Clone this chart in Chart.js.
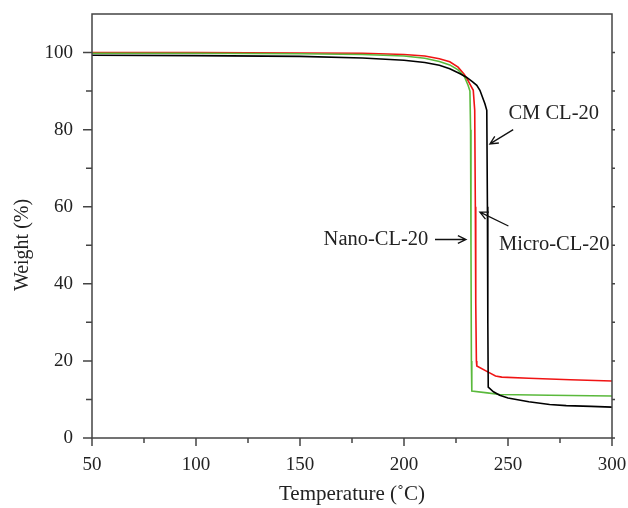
<!DOCTYPE html>
<html>
<head>
<meta charset="utf-8">
<script src="https://cdn.jsdelivr.net/npm/chart.js@4.4.1/dist/chart.umd.min.js"></script>
<style>
  html, body { margin: 0; padding: 0; background: #fff; }
  #wrap { width: 628px; height: 508px; }
</style>
</head>
<body>
<div id="wrap"><canvas id="chart" width="628" height="508"></canvas></div>
<script>
// TGA curves
var microT = [50, 100, 150, 180, 200, 210, 217, 222, 226, 229, 231, 233.3, 234, 234.3, 234.5, 234.8, 235, 240.5, 244, 247, 260, 280, 300];
var microW = [100, 100, 99.9, 99.8, 99.5, 99.1, 98.4, 97.6, 96.2, 94.3, 92.5, 90.2, 85, 60, 35, 20, 18.7, 17.1, 16.1, 15.8, 15.5, 15.1, 14.8];

var nanoT = [50, 100, 150, 180, 200, 210, 217, 222, 226, 229, 230.8, 231.7, 232, 232.2, 232.4, 232.6, 240, 246, 270, 300];
var nanoW = [99.8, 99.8, 99.7, 99.5, 99.1, 98.5, 97.7, 96.8, 95.5, 93.8, 91.5, 90, 80, 50, 20, 12.2, 11.7, 11.3, 11.1, 10.9];

var cmT = [50, 100, 150, 180, 200, 210, 217, 222, 227, 230, 233, 235, 236.5, 238.9, 239.8, 240.1, 240.3, 240.5, 243, 246, 250, 260, 270, 278, 290, 300];
var cmW = [99.3, 99.2, 99, 98.6, 98, 97.4, 96.7, 95.8, 94.5, 93.6, 92.4, 91.5, 90.2, 86.7, 85, 60, 30, 13.2, 12, 11.1, 10.4, 9.4, 8.7, 8.4, 8.2, 8.0];

var xTicks = [50, 100, 150, 200, 250, 300];
var xMinor = [75, 125, 175, 225, 275];
var yTicks = [0, 20, 40, 60, 80, 100];
var yMinor = [10, 30, 50, 70, 90];

function pts(t, w) {
  return t.map(function (v, i) { return {x: v, y: w[i]}; });
}

var serif = '"Liberation Serif", "DejaVu Serif", serif';

// frame, tick marks, axis titles and the arrow labels
var extras = {
  id: 'extras',
  afterDraw: function (chart) {
    var c = chart.ctx, a = chart.chartArea;
    var xs = chart.scales.x, ys = chart.scales.y;
    c.save();
    c.strokeStyle = '#444';
    c.lineWidth = 1.5;
    c.strokeRect(a.left, a.top, a.right - a.left, a.bottom - a.top);

    c.beginPath();
    xTicks.forEach(function (v) {
      var p = xs.getPixelForValue(v);
      c.moveTo(p, a.bottom); c.lineTo(p, a.bottom + 8);
    });
    xMinor.forEach(function (v) {
      var p = xs.getPixelForValue(v);
      c.moveTo(p, a.bottom); c.lineTo(p, a.bottom + 5);
    });
    yTicks.forEach(function (v) {
      var p = ys.getPixelForValue(v);
      c.moveTo(a.left, p); c.lineTo(a.left - 9, p);
      c.moveTo(a.right, p); c.lineTo(a.right + 3, p);
    });
    yMinor.forEach(function (v) {
      var p = ys.getPixelForValue(v);
      c.moveTo(a.left, p); c.lineTo(a.left - 6, p);
      c.moveTo(a.right, p); c.lineTo(a.right + 3, p);
    });
    c.stroke();

    c.fillStyle = '#222';
    c.font = '21px ' + serif;
    c.textAlign = 'center';
    c.textBaseline = 'middle';
    c.fillText('Temperature (\u02DAC)', (a.left + a.right) / 2, 494);
    c.font = '20px ' + serif;
    c.save();
    c.translate(23, 245);
    c.rotate(-Math.PI / 2);
    c.fillText('Weight (%)', 0, 0);
    c.restore();

    c.font = '20.5px ' + serif;
    c.textBaseline = 'alphabetic';
    c.textAlign = 'left';
    c.fillText('CM CL-20', xs.getPixelForValue(250.2), ys.getPixelForValue(82.8));
    c.fillText('Micro-CL-20', xs.getPixelForValue(245.7), ys.getPixelForValue(48.7));
    c.textAlign = 'right';
    c.fillText('Nano-CL-20', xs.getPixelForValue(211.7), ys.getPixelForValue(50.2));

    function arrow(x1, y1, x2, y2) {
      var px1 = xs.getPixelForValue(x1), py1 = ys.getPixelForValue(y1);
      var px2 = xs.getPixelForValue(x2), py2 = ys.getPixelForValue(y2);
      var ang = Math.atan2(py2 - py1, px2 - px1);
      c.beginPath();
      c.moveTo(px1, py1); c.lineTo(px2, py2);
      c.moveTo(px2 - 9 * Math.cos(ang - 0.45), py2 - 9 * Math.sin(ang - 0.45));
      c.lineTo(px2, py2);
      c.lineTo(px2 - 9 * Math.cos(ang + 0.45), py2 - 9 * Math.sin(ang + 0.45));
      c.stroke();
    }
    c.strokeStyle = '#111';
    c.lineWidth = 1.3;
    arrow(252.5, 80, 241.3, 76.3);
    arrow(250.2, 55, 236.5, 58.6);
    arrow(214.9, 51.5, 229.8, 51.5);
    c.restore();
  }
};

var chart = new Chart('chart', {
  type: 'line',
  data: {
    datasets: [
      { label: 'CM CL-20', data: pts(cmT, cmW), borderColor: '#000000', borderWidth: 1.6 },
      { label: 'Nano-CL-20', data: pts(nanoT, nanoW), borderColor: 'rgb(90,185,60)', borderWidth: 1.6 },
      { label: 'Micro-CL-20', data: pts(microT, microW), borderColor: 'rgb(240,20,20)', borderWidth: 1.6 }
    ]
  },
  options: {
    responsive: false,
    animation: false,
    events: [],
    layout: { padding: { left: 0, top: 14, right: 16, bottom: 0 } },
    elements: { point: { radius: 0 }, line: { tension: 0 } },
    plugins: { legend: { display: false }, tooltip: { enabled: false } },
    scales: {
      x: {
        type: 'linear', min: 50, max: 300,
        grid: { display: false }, border: { display: false },
        afterBuildTicks: function (s) { s.ticks = xTicks.map(function (v) { return {value: v}; }); },
        afterFit: function (s) { s.height = 70; s.paddingLeft = 0; s.paddingRight = 0; },
        ticks: { color: '#222', font: { family: serif, size: 19 }, padding: 8, maxRotation: 0 }
      },
      y: {
        type: 'linear', min: 0, max: 110,
        grid: { display: false }, border: { display: false },
        afterBuildTicks: function (s) { s.ticks = yTicks.map(function (v) { return {value: v}; }); },
        afterFit: function (s) { s.width = 92; s.paddingTop = 0; s.paddingBottom = 0; },
        ticks: { color: '#222', font: { family: serif, size: 19 }, padding: 11 }
      }
    }
  },
  plugins: [extras]
});
</script>
</body>
</html>
